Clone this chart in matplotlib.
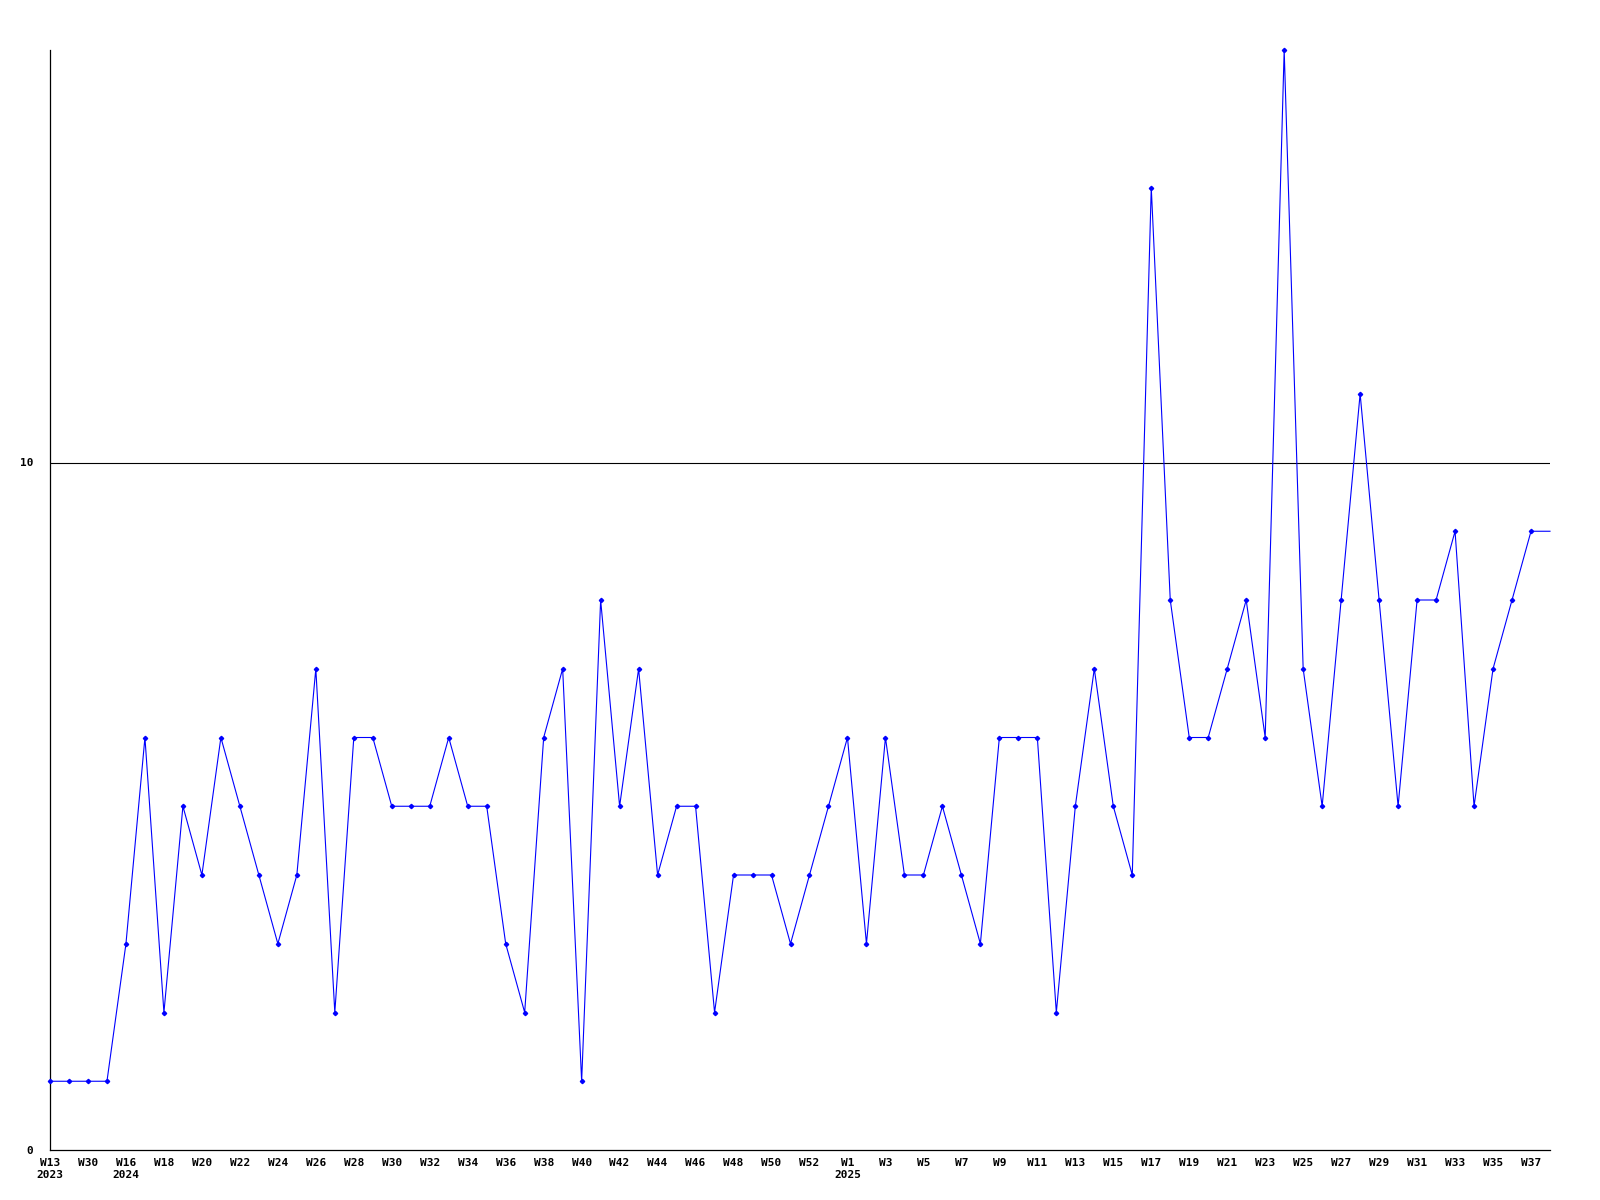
# weekly counts chart, W13 2023 .. W38 2025
import numpy as np
import matplotlib.pyplot as plt

weeks = ["W13", "W20", "W30", "W31"] + \
        ["W%d" % w for w in range(16, 54)] + \
        ["W%d" % w for w in range(1, 39)]
years = {0: "2023", 4: "2024", 42: "2025"}

counts = [1, 1, 1, 1, 3, 6, 2, 5, 4, 6,
          5, 4, 3, 4, 7, 2, 6, 6, 5, 5,
          5, 6, 5, 5, 3, 2, 6, 7, 1, 8,
          5, 7, 4, 5, 5, 2, 4, 4, 4, 3,
          4, 5, 6, 3, 6, 4, 4, 5, 4, 3,
          6, 6, 6, 2, 5, 7, 5, 4, 14, 8,
          6, 6, 7, 8, 6, 16, 7, 5, 8, 11,
          8, 5, 8, 8, 9, 5, 7, 8, 9, 9]

x = np.arange(len(counts))

fig = plt.figure(figsize=(16, 12), dpi=100)
ax = fig.add_axes([50 / 1600, 50 / 1200, 1500 / 1600, 1100 / 1200])

ax.axhline(10, color='black', lw=0.8)
ax.plot(x, counts, color='#0000ff', lw=0.8, marker='D', markersize=2.2,
        markevery=list(range(len(counts) - 1)), clip_on=False, zorder=3)

ax.set_xlim(0, len(counts) - 1)
ax.set_ylim(0, 16)

# labels only on every second week, year under the first week of a year
ticks = x[::2][:40]
labels = []
for i in ticks:
    lab = weeks[i]
    if i in years:
        lab = lab + "\n" + years[i]
    labels.append(lab)
ax.set_xticks(ticks)
ax.set_xticklabels(labels, fontfamily='DejaVu Sans Mono', fontweight='bold',
                   fontsize=8, ha='center', va='top', linespacing=1.3)
ax.set_yticks([0, 10])
ax.set_yticklabels(["0", "10"], fontfamily='DejaVu Sans Mono',
                   fontweight='bold', fontsize=8)
ax.tick_params(axis='both', length=0)
ax.tick_params(axis='x', pad=5.5)
ax.tick_params(axis='y', pad=12)

for s in ['top', 'right']:
    ax.spines[s].set_visible(False)
for s in ['left', 'bottom']:
    ax.spines[s].set_linewidth(0.9)

plt.savefig('out.png', dpi=100)
